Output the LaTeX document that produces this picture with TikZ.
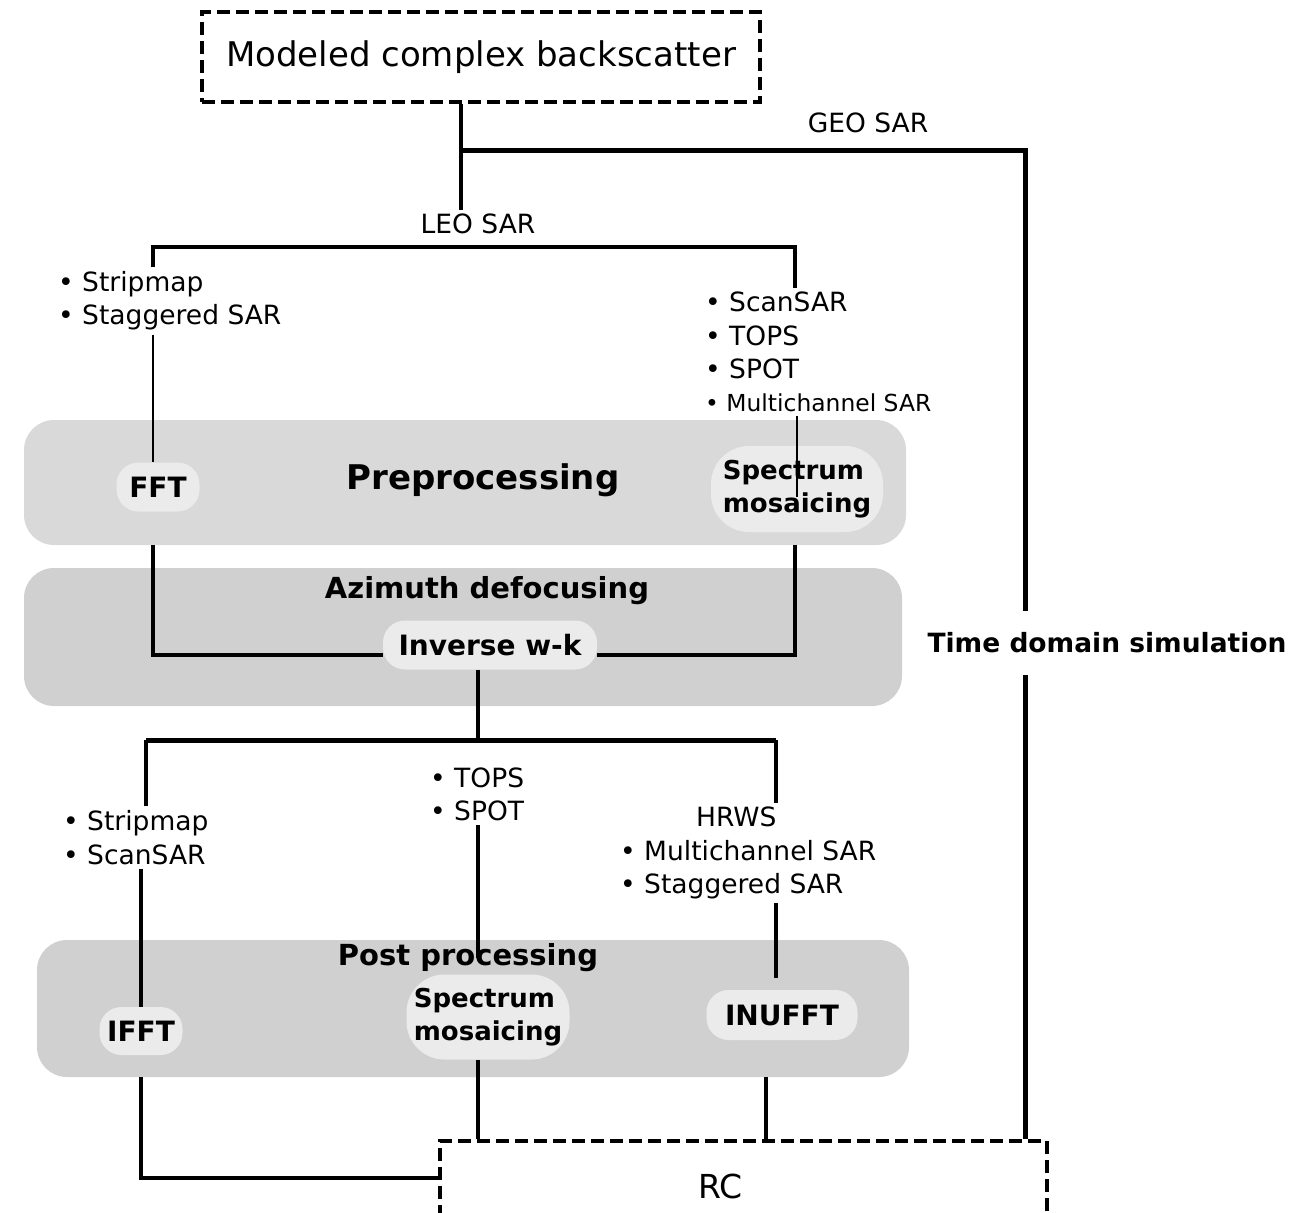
\documentclass[tikz,border=0pt]{standalone}
\usepackage{fontspec}
\setmainfont{DejaVu Sans}
\usetikzlibrary{shapes,arrows}
\definecolor{bandlight}{HTML}{D9D9D9}
\definecolor{banddark}{HTML}{D0D0D0}
\definecolor{pillgray}{HTML}{EBEBEB}
\tikzstyle{band} = [rectangle, fill=bandlight, rounded corners=30pt, inner sep=0pt]
\tikzstyle{pill} = [rectangle, fill=pillgray, rounded corners=22pt, inner sep=0pt,
    font=\fontsize{28}{30}\selectfont\bfseries]
\tikzstyle{dashbox} = [rectangle, draw, line width=4pt, dash pattern=on 13pt off 6pt, inner sep=0pt]
\tikzstyle{title} = [font=\fontsize{29}{32}\selectfont\bfseries]
\tikzstyle{tag} = [align=left, inner sep=4pt, font=\fontsize{26.5}{33.3}\selectfont]
\tikzstyle{line} = [draw, line width=3.5pt]
\tikzstyle{heavy line} = [draw, line width=5pt]
\tikzstyle{thin line} = [draw, line width=2pt]

\begin{document}
\begin{tikzpicture}[x=1pt, y=-1pt]
    \useasboundingbox (0,0) rectangle (1294,1213);
    % Place nodes
    \node [band, minimum width=882pt, minimum height=125pt] (pre) at (465,482.5) {};
    \node [band, fill=banddark, minimum width=878pt, minimum height=138pt] (azi) at (463,637) {};
    \node [band, fill=banddark, minimum width=872pt, minimum height=137pt] (post) at (473,1008.5) {};
    \node [dashbox, minimum width=558pt, minimum height=90pt, font=\fontsize{34}{40}\selectfont] (backscatter) at (481,57) {Modeled complex backscatter};
    \node [tag] (geo) at (868,123) {GEO SAR};
    \node [tag] (leo) at (478,224) {LEO SAR};
    \node [tag, anchor=west] (stripA) at (54,301) {• Stripmap\\• Staggered SAR};
    \node [tag, anchor=west] (scanA) at (701,352) {• ScanSAR\\• TOPS\\• SPOT\\{\fontsize{23.4}{33.3}\selectfont • Multichannel SAR}};
    \node [title, font=\fontsize{34}{40}\selectfont\bfseries] (preTitle) at (483,480) {Preprocessing};
    \node [title] (aziTitle) at (487,591) {Azimuth defocusing};
    \node [title] (postTitle) at (468,958) {Post processing};
    \node [title, inner sep=22pt, font=\fontsize{26.5}{30}\selectfont\bfseries] (timesim) at (1107,643) {Time domain simulation};
    \node [pill, minimum width=83pt, minimum height=49pt] (fft) at (158,487) {FFT};
    \node [pill, align=left, font=\fontsize{26}{33}\selectfont\bfseries, minimum width=172pt, minimum height=86pt, rounded corners=38pt] (mosaicA) at (797,489) {Spectrum\\mosaicing};
    \node [pill, minimum width=214pt, minimum height=49pt] (inverse) at (490,645) {Inverse w-k};
    \node [tag, anchor=west] (stripB) at (59,837.5) {• Stripmap\\• ScanSAR};
    \node [tag, anchor=west] (topsB) at (426,794.5) {• TOPS\\• SPOT};
    \node [tag, anchor=west] (hrws) at (616,853) {\hspace*{76pt}HRWS\\• Multichannel SAR\\• Staggered SAR};
    \node [pill, minimum width=83pt, minimum height=48pt] (ifft) at (141,1031) {IFFT};
    \node [pill, align=left, font=\fontsize{26}{33}\selectfont\bfseries, minimum width=163pt, minimum height=85pt, rounded corners=38pt] (mosaicB) at (488,1017) {Spectrum\\mosaicing};
    \node [pill, minimum width=151pt, minimum height=50pt] (inufft) at (782,1015) {INUFFT};
    \node [dashbox, minimum width=607pt, minimum height=90pt,
        label={[xshift=-23pt, font=\fontsize{33}{40}\selectfont]center:RC}] (rc) at (743.5,1186) {};
    % Branch points
    \coordinate (split) at (461,150);
    \coordinate (geoTurn) at (1025,150);
    \coordinate (leoL) at (153,247);
    \coordinate (leoR) at (795,247);
    \coordinate (postSplit) at (478,740);
    \coordinate (postL) at (146,740);
    \coordinate (postR) at (776,740);
    % Draw edges
    \path [line] (backscatter.south -| split) -- (split |- leo.north);
    \path [heavy line] (split) -- (geoTurn) -- (geoTurn |- timesim.north);
    \path [heavy line] (geoTurn |- timesim.south) -- (geoTurn |- rc.north);
    \path [line] (stripA.north -| leoL) -- (leoL) -- (leoR) -- (leoR |- scanA.north);
    \path [thin line] (stripA.south -| leoL) -- (fft.north -| leoL);
    \path [thin line] (scanA.south -| mosaicA) -- ([yshift=-8pt]mosaicA.center);
    \path [line] (pre.south -| leoL) |- ([yshift=-10pt]inverse.west);
    \path [line] (pre.south -| leoR) |- ([yshift=-10pt]inverse.east);
    \path [line] (inverse.south -| postSplit) -- (postSplit);
    \path [line] (stripB.north -| postL) -- (postL);
    \path [heavy line] (postL) -- (postR);
    \path [line] (postR) -- (postR |- hrws.north);
    \path [line] (stripB.south -| ifft) -- (ifft.north);
    \path [line] (topsB.south -| postSplit) -- (postTitle.center -| postSplit);
    \path [line] (hrws.south -| postR) -- ([yshift=12pt]inufft.north -| postR);
    \path [line] (post.south -| ifft) |- ([yshift=8pt]rc.west);
    \path [line] (mosaicB.south -| postSplit) -- (rc.north -| postSplit);
    \path [line] ([xshift=-16pt]post.south -| inufft) -- ([xshift=-16pt]rc.north -| inufft);
\end{tikzpicture}
\end{document}
